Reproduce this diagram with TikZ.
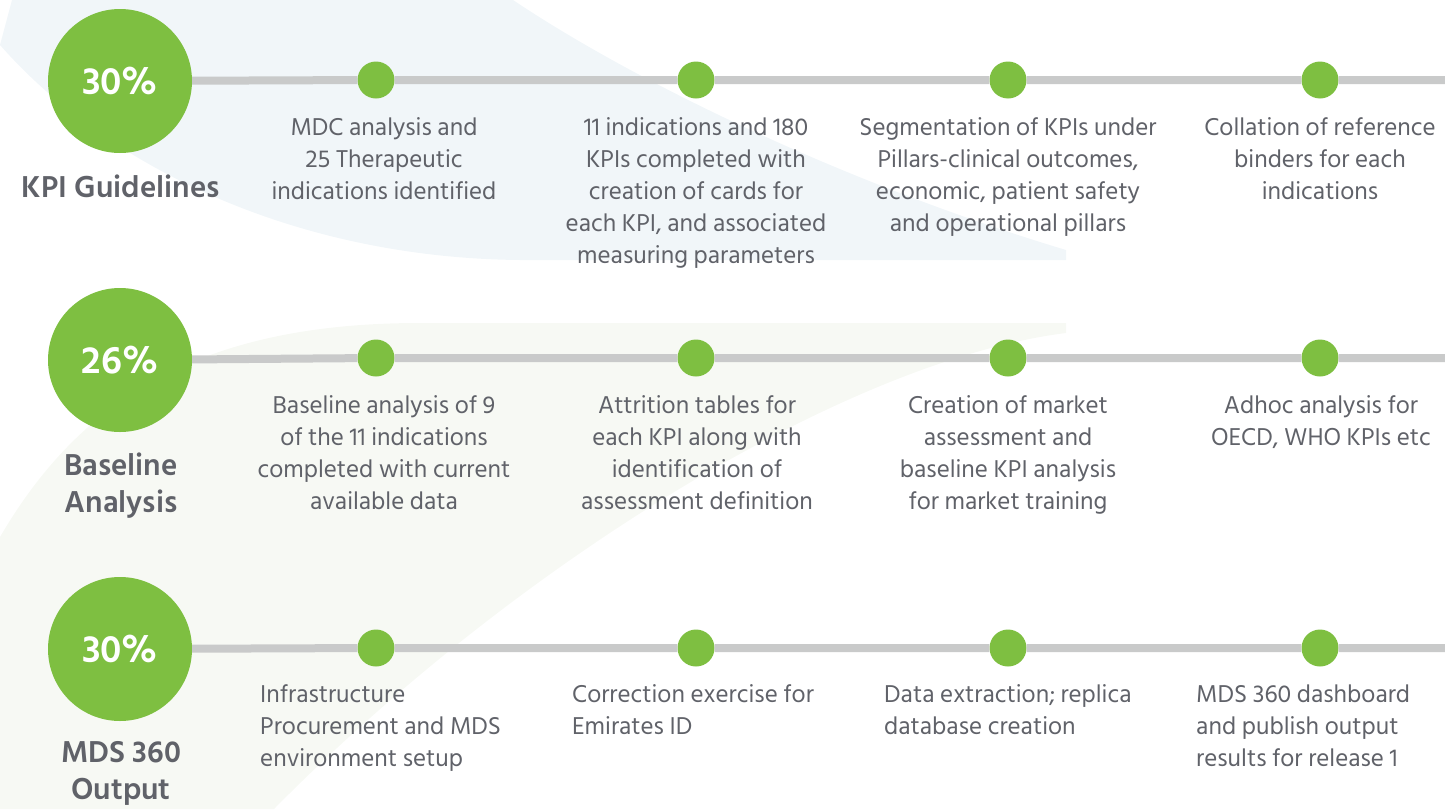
\documentclass[tikz,border=0pt]{standalone}
\usepackage{fontspec}
\setmainfont{Hind Siliguri}
\definecolor{kgreen}{RGB}{126,191,65}
\definecolor{ktext}{RGB}{96,98,105}
\definecolor{ktrack}{RGB}{201,202,202}
\definecolor{bgblue}{RGB}{241,246,249}
\definecolor{bggreen}{RGB}{247,249,244}
\tikzset{
  bigc/.style={circle, fill=kgreen, minimum size=144pt, inner sep=0pt, text=white, font=\fontsize{39}{40}\selectfont\bfseries},
  dotc/.style={circle, fill=kgreen, minimum size=37pt, inner sep=0pt},
  track/.style={draw=ktrack, line width=8pt},
  desc/.style={text=ktext, font=\fontsize{25}{32}\selectfont, inner sep=0pt, anchor=base, align=center},
  descl/.style={text=ktext, font=\fontsize{25}{32}\selectfont, inner sep=0pt, anchor=base west, align=left},
  lbl/.style={text=ktext, font=\fontsize{31}{37}\selectfont\bfseries, inner sep=0pt, anchor=base, align=center}
}
\begin{document}
\begin{tikzpicture}[x=1pt,y=-1pt]
\useasboundingbox (0,0) rectangle (1445,809);
% background shapes
\fill[bgblue] (0,45) .. controls (110,170) and (300,258) .. (520,260) -- (1066,260) -- (1066,250)
  .. controls (850,185) and (640,85) .. (513,0) -- (12,0) -- cycle;
\fill[bggreen] (0,537) .. controls (80,400) and (200,323) .. (420,323) -- (1066,323) -- (1066,333)
  .. controls (850,360) and (520,560) .. (274,809) -- (0,809) -- cycle;
% row 1
\node[bigc] (c1) at (120,81) {30\%};
\node[dotc] (d11) at (376,80) {};
\node[dotc] (d12) at (696,80) {};
\node[dotc] (d13) at (1008,80) {};
\node[dotc] (d14) at (1320,80) {};
\coordinate (e1) at (1445,80);
\draw[track] (c1) -- (d11) -- (d12) -- (d13) -- (d14) -- (e1);
\node[lbl] (l1) at (121,197) {KPI Guidelines};
\node[desc] (t11) at (384,199) {MDC analysis and\\25 Therapeutic\\indications identified};
\node[desc] (t12) at (696,263) {11 indications and 180\\KPIs completed with\\creation of cards for\\each KPI, and associated\\measuring parameters};
\node[desc] (t13) at (1008,231) {Segmentation of KPIs under\\Pillars-clinical outcomes,\\economic, patient safety\\and operational pillars};
\node[desc] (t14) at (1320,199) {Collation of reference\\binders for each\\indications};
% row 2
\node[bigc] (c2) at (120,360) {26\%};
\node[dotc] (d21) at (376,358) {};
\node[dotc] (d22) at (696,358) {};
\node[dotc] (d23) at (1008,358) {};
\node[dotc] (d24) at (1320,358) {};
\coordinate (e2) at (1445,358);
\draw[track] (c2) -- (d21) -- (d22) -- (d23) -- (d24) -- (e2);
\node[lbl] (l2) at (121,512) {Baseline\\Analysis};
\node[desc] (t21) at (384,509) {Baseline analysis of 9\\of the 11 indications\\completed with current\\available data};
\node[desc] (t22) at (697,509) {Attrition tables for\\each KPI along with\\identification of\\assessment definition};
\node[desc] (t23) at (1008,509) {Creation of market\\assessment and\\baseline KPI analysis\\for market training};
\node[desc] (t24) at (1321,445) {Adhoc analysis for\\OECD, WHO KPIs etc};
% row 3
\node[bigc] (c3) at (120,649) {30\%};
\node[dotc] (d31) at (376,648) {};
\node[dotc] (d32) at (696,648) {};
\node[dotc] (d33) at (1008,648) {};
\node[dotc] (d34) at (1320,648) {};
\coordinate (e3) at (1445,648);
\draw[track] (c3) -- (d31) -- (d32) -- (d33) -- (d34) -- (e3);
\node[lbl] (l3) at (121,799) {MDS 360\\Output};
\node[descl] (t31) at (260,766) {Infrastructure\\Procurement and MDS\\environment setup};
\node[descl] (t32) at (572,734) {Correction exercise for\\Emirates ID};
\node[descl] (t33) at (884,734) {Data extraction; replica\\database creation};
\node[descl] (t34) at (1196,766) {MDS 360 dashboard\\and publish output\\results for release 1};
\end{tikzpicture}
\end{document}
